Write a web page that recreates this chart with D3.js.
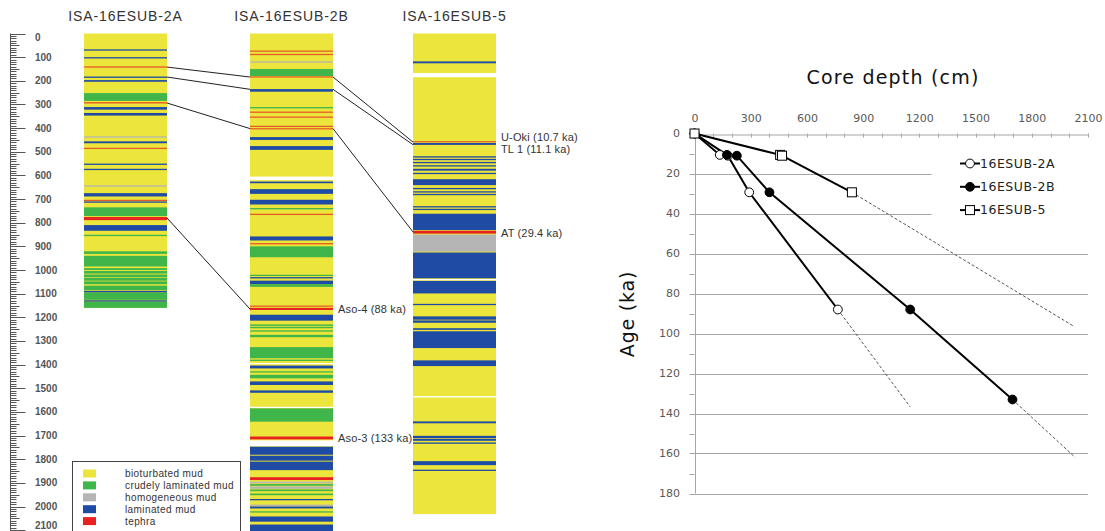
<!DOCTYPE html>
<html>
<head>
<meta charset="utf-8">
<script src="https://cdn.jsdelivr.net/npm/d3@7/dist/d3.min.js"></script>
<style>
  body { margin: 0; background: #fff; }
  svg { display: block; }
</style>
</head>
<body>
<svg width="1105" height="531"></svg>
<script>
  //Lithology codes: c crudely laminated, h homogeneous, l laminated, t tephra, w gap (background is bioturbated)
  const legendItems = [
    ['b', 'bioturbated mud'],
    ['c', 'crudely laminated mud'],
    ['h', 'homogeneous mud'],
    ['l', 'laminated mud'],
    ['t', 'tephra']
  ];

  //Layers per core, [top cm, bottom cm, code]
  const layers2A = [
    [67,71,'l'],[100,103,'l'],[139,142,'t'],[182,186,'l'],[197,204,'l'],[252,285,'c'],
    [290,296,'t'],[311,322,'l'],[336,347,'l'],[435,438,'h'],[456,464,'l'],[483,486,'t'],
    [550,554,'l'],[572,576,'l'],[642,645,'h'],[675,689,'l'],[703,706,'t'],[710,713,'l'],
    [735,772,'c'],[776,789,'t'],[810,834,'l'],[851,855,'c'],[921,932,'c'],[940,985,'c'],
    [992,1000,'c'],[1004,1015,'c'],[1019,1030,'c'],[1033,1045,'c'],[1048,1060,'c'],
    [1066,1085,'c'],[1088,1095,'l'],[1095,1126,'c'],[1128,1134,'l'],[1134,1160,'c']
  ];
  const layers2B = [
    [72,75,'t'],[86,89,'t'],[118,121,'h'],[150,180,'c'],[181,185,'t'],[235,246,'l'],
    [311,314,'c'],[330,333,'t'],[351,354,'t'],[390,393,'t'],[400,404,'t'],[438,450,'l'],
    [476,492,'l'],[605,620,'w'],[626,633,'l'],[658,678,'l'],[703,723,'l'],[738,741,'c'],
    [762,765,'t'],[858,875,'l'],[886,889,'t'],[900,946,'c'],[1020,1023,'c'],[1030,1034,'l'],
    [1045,1060,'l'],[1060,1071,'c'],[1150,1155,'t'],[1160,1169,'t'],[1189,1214,'l'],
    [1230,1236,'c'],[1240,1246,'c'],[1255,1259,'c'],[1274,1284,'c'],[1326,1373,'c'],
    [1379,1383,'c'],[1393,1396,'w'],[1404,1416,'l'],[1428,1432,'c'],[1443,1458,'c'],
    [1471,1486,'l'],[1509,1519,'l'],[1578,1582,'w'],[1585,1641,'c'],[1704,1716,'t'],
    [1720,1745,'w'],[1747,1781,'l'],[1785,1806,'l'],[1810,1846,'l'],[1876,1888,'t'],
    [1895,1902,'h'],[1905,1912,'c'],[1915,1925,'h'],[1928,1935,'c'],[1945,1952,'c'],
    [1968,1972,'l'],[1992,2000,'h'],[2000,2008,'l'],[2020,2024,'c'],[2042,2064,'l'],
    [2076,2130,'l']
  ];
  const layers5 = [
    [118,126,'l'],[167,185,'w'],[455,459,'t'],[463,471,'l'],[519,523,'l'],[530,534,'l'],
    [543,547,'l'],[557,561,'l'],[572,580,'l'],[589,593,'l'],[616,641,'l'],[653,657,'l'],
    [667,671,'l'],[678,682,'l'],[730,734,'l'],[741,745,'l'],[762,831,'l'],[834,846,'t'],
    [850,922,'h'],[926,1035,'l'],[1038,1042,'w'],[1046,1099,'l'],[1143,1146,'l'],
    [1196,1210,'l'],[1213,1223,'l'],[1246,1253,'l'],[1259,1330,'l'],[1382,1406,'l'],
    [1533,1539,'w'],[1640,1648,'l'],[1701,1711,'l'],[1714,1722,'l'],[1729,1733,'l'],
    [1808,1825,'l'],[1844,1848,'l']
  ];

  const cores = [
    { name: 'ISA-16ESUB-2A', length: 1160, layers: layers2A },
    { name: 'ISA-16ESUB-2B', length: 2130, layers: layers2B },
    { name: 'ISA-16ESUB-5', length: 2032, layers: layers5 }
  ];

  //Tephra tie points, depth in each core (null = not found)
  const ties = [
    { label: 'U-Oki (10.7 ka)', depths: [142, 184, 459], dy: -5 },
    { label: 'TL 1 (11.1 ka)', depths: [184, 236, 470], dy: 4 },
    { label: 'AT (29.4 ka)', depths: [294, 402, 839], dy: 1 },
    { label: 'Aso-4 (88 ka)', depths: [780, 1165, null], dy: 0 },
    { label: 'Aso-3 (133 ka)', depths: [null, 1710, null], dy: 0 }
  ];

  //Age-depth chart data
  const series = [
    { name: '16ESUB-2A', shape: 'circle', fill: '#fff',
      points: [[0,0],[135,10.7],[178,11.1],[292,29.4],[765,88]], extra: [1151,136.7] },
    { name: '16ESUB-2B', shape: 'circle', fill: '#000',
      points: [[0,0],[173,10.7],[226,11.1],[400,29.4],[1151,88],[1697,133]], extra: [2032,162] },
    { name: '16ESUB-5', shape: 'square', fill: '#fff',
      points: [[0,0],[457,10.7],[467,11.1],[840,29.4]], extra: [2023,96.3] }
  ];
  const depthTicks = d3.range(0, 2101, 300);
  const ageTicks = d3.range(0, 181, 20);

  const colors = { b: '#ece53b', c: '#3fb54a', h: '#b5b5b5', l: '#1f4ba4', t: '#e62320', w: '#ffffff' };
  const leftFont = 'Liberation Sans, Arial, sans-serif';
  const chartFont = 'DejaVu Sans, Verdana, sans-serif';

  const svg = d3.select('svg');

  /* Left panel: core logs */
  const yCore = d3.scaleLinear().domain([0, 2100]).range([33.5, 530.2]);
  const colX = [84, 250, 413];
  const colW = 83;

  //depth ruler
  const ruler = svg.append('g').attr('stroke', '#555').attr('stroke-width', 1);
  ruler.append('line').attr('x1', 10.5).attr('x2', 10.5).attr('y1', yCore(0)).attr('y2', 531);
  d3.range(0, 2201, 10).forEach(d => {
    const len = d % 100 === 0 ? 15 : (d % 50 === 0 ? 9 : 6);
    ruler.append('line')
      .attr('x1', 10.5).attr('x2', 10.5 + len)
      .attr('y1', Math.round(yCore(d)) + 0.5).attr('y2', Math.round(yCore(d)) + 0.5);
  });
  svg.append('g').selectAll('text')
    .data(d3.range(0, 2101, 100))
    .enter().append('text')
    .attr('x', 35).attr('y', d => yCore(d) + (d === 0 ? 4 : 0) - (d === 2100 ? 5 : 0))
    .attr('dy', '0.35em')
    .attr('font-family', leftFont)
    .attr('font-size', 10).attr('font-weight', 'bold').attr('fill', '#555')
    .text(d => d);

  //core columns
  cores.forEach((core, i) => {
    const g = svg.append('g');
    g.append('text')
      .attr('x', colX[i] + colW / 2).attr('y', 21)
      .attr('text-anchor', 'middle')
      .attr('font-family', leftFont)
      .attr('font-size', 14).attr('letter-spacing', 0.9).attr('fill', '#333')
      .text(core.name);
    g.append('rect')
      .attr('x', colX[i]).attr('width', colW)
      .attr('y', yCore(0)).attr('height', yCore(core.length) - yCore(0))
      .attr('fill', colors.b);
    g.selectAll('rect.layer')
      .data(core.layers)
      .enter().append('rect')
      .attr('class', 'layer')
      .attr('x', colX[i]).attr('width', colW)
      .attr('y', d => yCore(d[0]))
      .attr('height', d => Math.max(yCore(d[1]) - yCore(d[0]), 1.3))
      .attr('fill', d => colors[d[2]])
      .attr('fill-opacity', d => (d[2] === 't' && yCore(d[1]) - yCore(d[0]) < 2) ? 0.7 : 1);
  });

  //correlation lines
  const corr = svg.append('g').attr('stroke', '#222').attr('stroke-width', 1).attr('fill', 'none');
  ties.forEach(t => {
    for (let i = 0; i < 2; i++) {
      if (t.depths[i] !== null && t.depths[i + 1] !== null) {
        corr.append('line')
          .attr('x1', colX[i] + colW).attr('y1', yCore(t.depths[i]))
          .attr('x2', colX[i + 1]).attr('y2', yCore(t.depths[i + 1]));
      }
    }
    //label beside last core where found
    let last = 2;
    while (t.depths[last] === null) last--;
    svg.append('text')
      .attr('x', colX[last] + colW + 5)
      .attr('y', yCore(t.depths[last]) + t.dy)
      .attr('dy', '0.35em')
      .attr('font-family', leftFont)
      .attr('font-size', 11).attr('letter-spacing', 0.15).attr('fill', '#333')
      .text(t.label);
  });

  //lithology legend
  const lg = svg.append('g');
  lg.append('rect')
    .attr('x', 72.5).attr('y', 461.5).attr('width', 168).attr('height', 80)
    .attr('fill', '#fff').attr('stroke', '#444');
  legendItems.forEach((it, i) => {
    const y = 473.5 + i * 11.9;
    lg.append('rect').attr('x', 83).attr('y', y - 4).attr('width', 13).attr('height', 8).attr('fill', colors[it[0]]);
    lg.append('text').attr('x', 125).attr('y', y).attr('dy', '0.35em')
      .attr('font-family', leftFont)
      .attr('font-size', 10).attr('letter-spacing', 0.4).attr('fill', '#333')
      .text(it[1]);
  });

  /* Right panel: age-depth chart */
  const x = d3.scaleLinear().domain([0, 2100]).range([694.5, 1088]);
  const y = d3.scaleLinear().domain([0, 180]).range([133.5, 493.5]);
  const grid = svg.append('g').attr('stroke', '#a6a6a6').attr('stroke-width', 1);

  ageTicks.forEach(a => {
    if (a === 0) return;
    const right = (a === 20 || a === 40) ? x(1265) : x(2100);
    grid.append('line').attr('x1', x(0) - 5).attr('x2', right)
      .attr('y1', Math.round(y(a)) + 0.5).attr('y2', Math.round(y(a)) + 0.5);
  });
  d3.range(10, 180, 20).forEach(a => {
    grid.append('line').attr('x1', x(0) - 5).attr('x2', x(0))
      .attr('y1', Math.round(y(a)) + 0.5).attr('y2', Math.round(y(a)) + 0.5);
  });
  grid.append('line').attr('x1', Math.round(x(0)) + 0.5).attr('x2', Math.round(x(0)) + 0.5)
    .attr('y1', y(0)).attr('y2', y(180));

  //top depth axis
  const xAxis = d3.axisTop(x).tickValues(depthTicks).tickFormat(d3.format('d')).tickSize(0).tickPadding(13);
  const xg = svg.append('g').attr('transform', `translate(0,${Math.round(y(0)) + 0.5})`).call(xAxis);
  xg.select('.domain').attr('stroke', '#a6a6a6');
  xg.selectAll('text').attr('font-family', chartFont).attr('font-size', 11).attr('fill', '#595959');
  d3.range(0, 2101, 100).forEach(d => {
    grid.append('line').attr('x1', Math.round(x(d)) + 0.5).attr('x2', Math.round(x(d)) + 0.5)
      .attr('y1', y(0)).attr('y2', y(0) + 4);
  });

  //left age axis labels
  svg.append('g').selectAll('text')
    .data(ageTicks)
    .enter().append('text')
    .attr('x', 680).attr('y', d => y(d)).attr('dy', '0.35em')
    .attr('text-anchor', 'end')
    .attr('font-family', chartFont).attr('font-size', 11).attr('fill', '#595959')
    .text(d => d);

  svg.append('text')
    .attr('x', 893).attr('y', 77).attr('dy', '0.35em')
    .attr('text-anchor', 'middle')
    .attr('font-family', chartFont).attr('font-size', 19).attr('letter-spacing', 1.2).attr('fill', '#111')
    .text('Core depth (cm)');
  svg.append('text')
    .attr('transform', 'translate(627,314) rotate(-90)')
    .attr('dy', '0.35em')
    .attr('text-anchor', 'middle')
    .attr('font-family', chartFont).attr('font-size', 19).attr('letter-spacing', 0.8).attr('fill', '#111')
    .text('Age (ka)');

  //series
  const line = d3.line().x(d => x(d[0])).y(d => y(d[1]));
  series.forEach(s => {
    const last = s.points[s.points.length - 1];
    svg.append('path').datum([last, s.extra]).attr('d', line)
      .attr('fill', 'none').attr('stroke', '#555').attr('stroke-width', 1).attr('stroke-dasharray', '3,2');
    svg.append('path').datum(s.points).attr('d', line)
      .attr('fill', 'none').attr('stroke', '#000').attr('stroke-width', 2);
  });
  function drawMarker(g, s, cx, cy) {
    if (s.shape === 'circle') {
      g.append('circle').attr('cx', cx).attr('cy', cy).attr('r', 4.4)
        .attr('fill', s.fill).attr('stroke', '#000').attr('stroke-width', 1);
    } else {
      g.append('rect').attr('x', cx - 4.5).attr('y', cy - 4.5).attr('width', 9).attr('height', 9)
        .attr('fill', s.fill).attr('stroke', '#000').attr('stroke-width', 1);
    }
  }
  const marks = svg.append('g');
  series.forEach(s => s.points.forEach(p => drawMarker(marks, s, x(p[0]), y(p[1]))));

  //series legend
  series.forEach((s, i) => {
    const ly = 163.5 + i * 23.3;
    svg.append('line').attr('x1', 960).attr('x2', 980).attr('y1', ly).attr('y2', ly)
      .attr('stroke', '#000').attr('stroke-width', 2);
    drawMarker(svg, s, 970, ly);
    svg.append('text').attr('x', 980).attr('y', ly).attr('dy', '0.35em')
      .attr('font-family', chartFont).attr('font-size', 12.5).attr('letter-spacing', 0.5).attr('fill', '#222')
      .text(s.name);
  });
</script>
</body>
</html>
